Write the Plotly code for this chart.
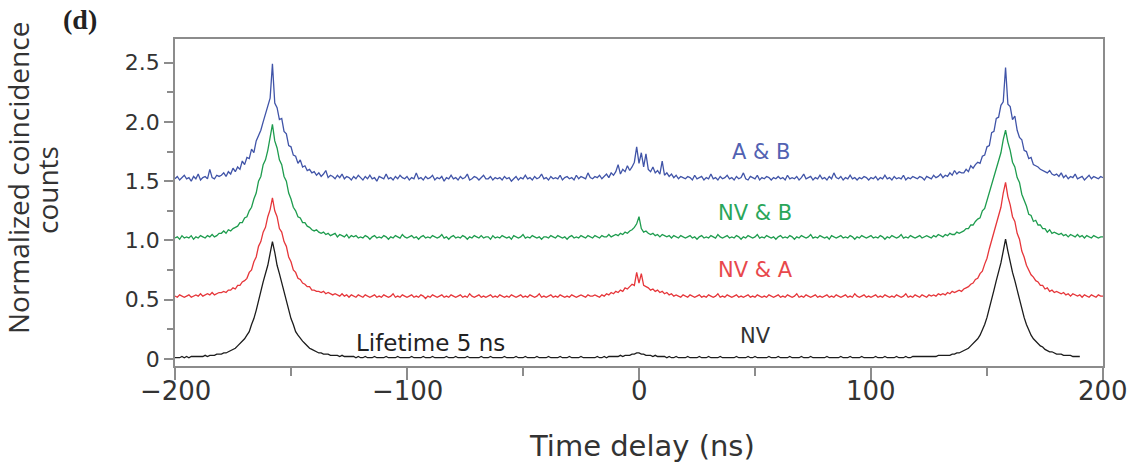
import plotly.graph_objects as go

# Time bins (ns) for the coincidence histograms
time_ns = list(range(-200, 201))
nv_time_ns = list(range(-200, 191))

# Axis tick values and labels
x_tick_values = [-200, -100, 0, 100, 200]
x_tick_labels = ["\u2212200", "\u2212100", "0", "100", "200"]
x_minor_values = [-150, -50, 50, 150]
y_tick_values = [0, 0.5, 1.0, 1.5, 2.0, 2.5]
y_tick_labels = ["0", "0.5", "1.0", "1.5", "2.0", "2.5"]
y_minor_values = [0.25, 0.75, 1.25, 1.75, 2.25]

# A & B coincidences (offset by +1.5)
counts_ab = (
    [1.52, 1.54, 1.51, 1.53, 1.55, 1.52, 1.53, 1.50, 1.54, 1.52, 1.56, 1.51, 1.53, 1.54, 1.52, 1.60, 1.53, 1.52, 1.55, 1.54]
    + [1.55, 1.57, 1.54, 1.58, 1.56, 1.61, 1.58, 1.62, 1.60, 1.67, 1.64, 1.70, 1.69, 1.77, 1.74, 1.84, 1.88, 1.93, 2.00, 2.06]
    + [2.13, 2.20, 2.49, 2.16, 2.12, 2.02, 2.03, 1.92, 1.90, 1.80, 1.79, 1.72, 1.71, 1.65, 1.68, 1.62, 1.63, 1.59, 1.60, 1.57]
    + [1.58, 1.55, 1.57, 1.54, 1.56, 1.59, 1.53, 1.55, 1.54, 1.52, 1.55, 1.53, 1.56, 1.52, 1.54, 1.53, 1.51, 1.54, 1.52, 1.55]
    + [1.53, 1.51, 1.54, 1.52, 1.55, 1.52, 1.53, 1.50, 1.54, 1.53, 1.52, 1.56, 1.52, 1.53, 1.51, 1.54, 1.52, 1.55, 1.53, 1.52]
    + [1.54, 1.51, 1.53, 1.52, 1.57, 1.52, 1.53, 1.51, 1.54, 1.52, 1.53, 1.55, 1.51, 1.53, 1.52, 1.54, 1.50, 1.53, 1.52, 1.55]
    + [1.52, 1.53, 1.51, 1.54, 1.52, 1.53, 1.56, 1.51, 1.52, 1.54, 1.53, 1.51, 1.53, 1.55, 1.52, 1.52, 1.54, 1.51, 1.53, 1.52]
    + [1.53, 1.51, 1.54, 1.52, 1.53, 1.50, 1.52, 1.54, 1.51, 1.53, 1.52, 1.55, 1.52, 1.53, 1.51, 1.54, 1.52, 1.53, 1.56, 1.52]
    + [1.53, 1.51, 1.54, 1.52, 1.53, 1.52, 1.55, 1.51, 1.53, 1.54, 1.52, 1.53, 1.51, 1.55, 1.52, 1.54, 1.53, 1.52, 1.57, 1.53]
    + [1.52, 1.54, 1.53, 1.55, 1.52, 1.54, 1.56, 1.53, 1.57, 1.55, 1.58, 1.64, 1.56, 1.60, 1.58, 1.63, 1.59, 1.62, 1.66, 1.79]
    + [1.65, 1.74, 1.62, 1.73, 1.60, 1.58, 1.62, 1.57, 1.59, 1.56, 1.67, 1.55, 1.57, 1.54, 1.56, 1.53, 1.55, 1.52, 1.54, 1.53]
    + [1.52, 1.54, 1.53, 1.51, 1.55, 1.52, 1.53, 1.54, 1.51, 1.53, 1.52, 1.56, 1.52, 1.53, 1.51, 1.54, 1.52, 1.53, 1.55, 1.52]
    + [1.53, 1.51, 1.54, 1.52, 1.53, 1.57, 1.52, 1.51, 1.54, 1.53, 1.52, 1.55, 1.51, 1.53, 1.52, 1.54, 1.53, 1.51, 1.53, 1.52]
    + [1.54, 1.52, 1.53, 1.51, 1.55, 1.52, 1.53, 1.52, 1.54, 1.51, 1.53, 1.56, 1.52, 1.53, 1.54, 1.51, 1.53, 1.52, 1.55, 1.52]
    + [1.53, 1.51, 1.54, 1.52, 1.57, 1.53, 1.52, 1.54, 1.51, 1.53, 1.52, 1.55, 1.52, 1.53, 1.51, 1.53, 1.52, 1.54, 1.53, 1.51]
    + [1.53, 1.52, 1.54, 1.51, 1.53, 1.52, 1.55, 1.52, 1.53, 1.51, 1.54, 1.52, 1.53, 1.52, 1.55, 1.51, 1.53, 1.52, 1.54, 1.53]
    + [1.52, 1.54, 1.53, 1.51, 1.54, 1.53, 1.52, 1.55, 1.53, 1.54, 1.56, 1.53, 1.55, 1.54, 1.57, 1.55, 1.59, 1.56, 1.58, 1.57]
    + [1.57, 1.60, 1.58, 1.63, 1.61, 1.64, 1.66, 1.65, 1.71, 1.72, 1.79, 1.80, 1.91, 1.92, 2.03, 2.04, 2.14, 2.17, 2.46, 2.15]
    + [2.13, 2.02, 2.05, 1.93, 1.87, 1.85, 1.76, 1.75, 1.69, 1.70, 1.64, 1.63, 1.62, 1.60, 1.59, 1.58, 1.57, 1.59, 1.56, 1.55]
    + [1.56, 1.54, 1.57, 1.53, 1.55, 1.52, 1.54, 1.53, 1.56, 1.52, 1.53, 1.54, 1.51, 1.53, 1.55, 1.52, 1.54, 1.53, 1.52, 1.54, 1.53]
)

# NV & B coincidences (offset by +1.0)
counts_nv_b = (
    [1.02, 1.03, 1.01, 1.04, 1.02, 1.03, 1.02, 1.04, 1.01, 1.03, 1.02, 1.04, 1.03, 1.02, 1.04, 1.03, 1.05, 1.03, 1.04, 1.06]
    + [1.06, 1.08, 1.06, 1.09, 1.08, 1.10, 1.11, 1.12, 1.15, 1.15, 1.19, 1.20, 1.25, 1.28, 1.35, 1.40, 1.50, 1.54, 1.64, 1.68]
    + [1.76, 1.87, 1.98, 1.84, 1.78, 1.68, 1.64, 1.54, 1.50, 1.40, 1.35, 1.28, 1.25, 1.20, 1.19, 1.15, 1.15, 1.12, 1.11, 1.09]
    + [1.08, 1.09, 1.07, 1.06, 1.07, 1.05, 1.06, 1.04, 1.05, 1.06, 1.03, 1.05, 1.04, 1.03, 1.05, 1.02, 1.04, 1.03, 1.04, 1.02]
    + [1.03, 1.02, 1.04, 1.03, 1.01, 1.03, 1.04, 1.02, 1.03, 1.02, 1.04, 1.03, 1.01, 1.03, 1.02, 1.04, 1.03, 1.02, 1.05, 1.03]
    + [1.02, 1.03, 1.04, 1.02, 1.03, 1.01, 1.03, 1.04, 1.02, 1.03, 1.02, 1.04, 1.03, 1.02, 1.03, 1.05, 1.02, 1.03, 1.01, 1.03]
    + [1.04, 1.02, 1.03, 1.02, 1.04, 1.03, 1.01, 1.03, 1.02, 1.04, 1.03, 1.02, 1.04, 1.02, 1.03, 1.03, 1.01, 1.04, 1.02, 1.03]
    + [1.02, 1.04, 1.03, 1.02, 1.03, 1.01, 1.04, 1.03, 1.02, 1.03, 1.05, 1.02, 1.03, 1.02, 1.04, 1.03, 1.02, 1.03, 1.01, 1.03]
    + [1.03, 1.02, 1.04, 1.03, 1.02, 1.04, 1.03, 1.02, 1.03, 1.01, 1.03, 1.04, 1.02, 1.03, 1.02, 1.04, 1.03, 1.02, 1.04, 1.03]
    + [1.02, 1.04, 1.03, 1.02, 1.04, 1.03, 1.03, 1.05, 1.03, 1.04, 1.05, 1.04, 1.06, 1.05, 1.07, 1.06, 1.08, 1.09, 1.11, 1.14]
    + [1.20, 1.10, 1.07, 1.08, 1.06, 1.05, 1.06, 1.04, 1.05, 1.03, 1.05, 1.04, 1.03, 1.04, 1.02, 1.04, 1.03, 1.02, 1.04, 1.03]
    + [1.02, 1.03, 1.04, 1.02, 1.03, 1.01, 1.03, 1.04, 1.02, 1.03, 1.02, 1.04, 1.03, 1.02, 1.05, 1.03, 1.02, 1.03, 1.04, 1.02]
    + [1.03, 1.02, 1.04, 1.03, 1.01, 1.03, 1.02, 1.04, 1.03, 1.02, 1.03, 1.05, 1.02, 1.03, 1.02, 1.04, 1.03, 1.02, 1.03, 1.01]
    + [1.03, 1.04, 1.02, 1.03, 1.02, 1.04, 1.03, 1.01, 1.03, 1.02, 1.04, 1.03, 1.02, 1.03, 1.05, 1.02, 1.03, 1.02, 1.04, 1.03]
    + [1.02, 1.03, 1.01, 1.04, 1.03, 1.02, 1.03, 1.04, 1.02, 1.03, 1.02, 1.04, 1.03, 1.01, 1.03, 1.02, 1.04, 1.03, 1.02, 1.03]
    + [1.04, 1.02, 1.03, 1.02, 1.04, 1.03, 1.01, 1.03, 1.02, 1.04, 1.03, 1.02, 1.03, 1.05, 1.02, 1.03, 1.02, 1.04, 1.03, 1.02]
    + [1.03, 1.04, 1.02, 1.03, 1.04, 1.03, 1.02, 1.04, 1.03, 1.05, 1.04, 1.03, 1.05, 1.04, 1.06, 1.05, 1.05, 1.07, 1.06, 1.07]
    + [1.08, 1.10, 1.10, 1.13, 1.13, 1.16, 1.18, 1.19, 1.25, 1.27, 1.34, 1.41, 1.47, 1.55, 1.61, 1.69, 1.74, 1.85, 1.93, 1.83]
    + [1.76, 1.66, 1.62, 1.53, 1.49, 1.39, 1.34, 1.29, 1.22, 1.21, 1.16, 1.17, 1.13, 1.13, 1.10, 1.10, 1.07, 1.09, 1.06, 1.07]
    + [1.06, 1.05, 1.06, 1.04, 1.05, 1.03, 1.05, 1.04, 1.03, 1.05, 1.03, 1.04, 1.02, 1.04, 1.03, 1.02, 1.04, 1.03, 1.02, 1.03, 1.03]
)

# NV & A coincidences (offset by +0.5)
counts_nv_a = (
    [0.53, 0.52, 0.54, 0.53, 0.52, 0.53, 0.54, 0.52, 0.53, 0.54, 0.53, 0.55, 0.53, 0.54, 0.55, 0.54, 0.56, 0.54, 0.55, 0.56]
    + [0.56, 0.57, 0.56, 0.58, 0.58, 0.60, 0.59, 0.62, 0.62, 0.65, 0.66, 0.68, 0.73, 0.75, 0.82, 0.86, 0.95, 0.99, 1.07, 1.11]
    + [1.20, 1.26, 1.36, 1.25, 1.20, 1.10, 1.07, 0.99, 0.95, 0.86, 0.82, 0.75, 0.73, 0.68, 0.67, 0.64, 0.63, 0.61, 0.61, 0.58]
    + [0.58, 0.57, 0.57, 0.56, 0.57, 0.55, 0.56, 0.55, 0.54, 0.55, 0.54, 0.53, 0.55, 0.53, 0.54, 0.52, 0.54, 0.53, 0.52, 0.54]
    + [0.53, 0.52, 0.54, 0.53, 0.52, 0.53, 0.54, 0.52, 0.53, 0.52, 0.54, 0.53, 0.52, 0.53, 0.55, 0.52, 0.53, 0.52, 0.54, 0.53]
    + [0.52, 0.53, 0.54, 0.52, 0.53, 0.52, 0.54, 0.53, 0.51, 0.53, 0.52, 0.54, 0.53, 0.52, 0.53, 0.54, 0.52, 0.53, 0.52, 0.54]
    + [0.53, 0.52, 0.53, 0.54, 0.52, 0.53, 0.52, 0.55, 0.53, 0.52, 0.53, 0.54, 0.52, 0.53, 0.52, 0.53, 0.54, 0.52, 0.53, 0.52]
    + [0.54, 0.53, 0.52, 0.53, 0.52, 0.54, 0.53, 0.52, 0.53, 0.54, 0.52, 0.53, 0.52, 0.54, 0.53, 0.52, 0.53, 0.55, 0.52, 0.53]
    + [0.52, 0.53, 0.54, 0.52, 0.53, 0.52, 0.54, 0.53, 0.52, 0.53, 0.52, 0.54, 0.53, 0.52, 0.53, 0.54, 0.53, 0.52, 0.54, 0.53]
    + [0.53, 0.54, 0.53, 0.52, 0.54, 0.53, 0.55, 0.54, 0.56, 0.55, 0.57, 0.56, 0.58, 0.57, 0.60, 0.59, 0.61, 0.63, 0.62, 0.73]
    + [0.64, 0.72, 0.62, 0.61, 0.60, 0.58, 0.59, 0.57, 0.58, 0.56, 0.57, 0.55, 0.56, 0.54, 0.55, 0.53, 0.54, 0.53, 0.52, 0.54]
    + [0.53, 0.52, 0.54, 0.53, 0.52, 0.53, 0.54, 0.52, 0.53, 0.52, 0.54, 0.53, 0.52, 0.53, 0.55, 0.52, 0.53, 0.52, 0.54, 0.53]
    + [0.52, 0.53, 0.54, 0.52, 0.53, 0.52, 0.53, 0.54, 0.52, 0.53, 0.52, 0.54, 0.53, 0.52, 0.53, 0.52, 0.54, 0.53, 0.52, 0.53]
    + [0.54, 0.52, 0.53, 0.52, 0.54, 0.53, 0.52, 0.53, 0.55, 0.52, 0.53, 0.52, 0.54, 0.53, 0.52, 0.53, 0.54, 0.52, 0.53, 0.52]
    + [0.53, 0.54, 0.52, 0.53, 0.52, 0.54, 0.53, 0.52, 0.53, 0.54, 0.52, 0.53, 0.52, 0.55, 0.53, 0.52, 0.53, 0.54, 0.52, 0.53]
    + [0.52, 0.53, 0.54, 0.52, 0.53, 0.52, 0.54, 0.53, 0.52, 0.53, 0.52, 0.54, 0.53, 0.52, 0.53, 0.55, 0.52, 0.53, 0.52, 0.54]
    + [0.53, 0.52, 0.54, 0.53, 0.52, 0.54, 0.53, 0.54, 0.53, 0.55, 0.54, 0.55, 0.54, 0.56, 0.55, 0.57, 0.56, 0.57, 0.58, 0.57]
    + [0.59, 0.60, 0.61, 0.63, 0.64, 0.67, 0.68, 0.72, 0.74, 0.80, 0.85, 0.93, 1.00, 1.08, 1.14, 1.22, 1.28, 1.40, 1.49, 1.37]
    + [1.30, 1.20, 1.16, 1.06, 1.01, 0.91, 0.86, 0.79, 0.75, 0.71, 0.69, 0.66, 0.65, 0.62, 0.62, 0.59, 0.60, 0.57, 0.58, 0.56]
    + [0.57, 0.56, 0.55, 0.56, 0.54, 0.55, 0.53, 0.55, 0.54, 0.53, 0.54, 0.52, 0.54, 0.53, 0.52, 0.54, 0.53, 0.52, 0.54, 0.53, 0.53]
)

# NV autocorrelation (no offset)
counts_nv = (
    [0.01, 0.01, 0.01, 0.02, 0.01, 0.02, 0.01, 0.02, 0.02, 0.02, 0.02, 0.02, 0.02, 0.03, 0.02, 0.03, 0.03, 0.03, 0.04, 0.04]
    + [0.04, 0.05, 0.05, 0.06, 0.07, 0.08, 0.09, 0.11, 0.13, 0.15, 0.17, 0.20, 0.23, 0.29, 0.34, 0.41, 0.50, 0.57, 0.65, 0.72]
    + [0.79, 0.89, 0.99, 0.90, 0.79, 0.72, 0.64, 0.57, 0.50, 0.41, 0.34, 0.29, 0.23, 0.20, 0.17, 0.15, 0.13, 0.11, 0.09, 0.08]
    + [0.07, 0.06, 0.05, 0.05, 0.04, 0.04, 0.04, 0.03, 0.03, 0.03, 0.03, 0.02, 0.03, 0.02, 0.02, 0.02, 0.02, 0.02, 0.01, 0.02]
    + [0.01, 0.01, 0.02, 0.01, 0.01, 0.01, 0.02, 0.01, 0.01, 0.01, 0.01, 0.02, 0.01, 0.01, 0.01, 0.01, 0.02, 0.01, 0.01, 0.01]
    + [0.01, 0.01, 0.02, 0.01, 0.01, 0.01, 0.01, 0.02, 0.01, 0.01, 0.01, 0.02, 0.01, 0.01, 0.01, 0.01, 0.01, 0.02, 0.01, 0.01]
    + [0.01, 0.02, 0.01, 0.01, 0.01, 0.01, 0.02, 0.01, 0.01, 0.01, 0.01, 0.01, 0.02, 0.01, 0.01, 0.01, 0.02, 0.01, 0.01, 0.01]
    + [0.01, 0.01, 0.02, 0.01, 0.01, 0.01, 0.01, 0.02, 0.01, 0.01, 0.01, 0.02, 0.01, 0.01, 0.01, 0.01, 0.02, 0.01, 0.01, 0.01]
    + [0.01, 0.02, 0.01, 0.01, 0.01, 0.01, 0.02, 0.01, 0.01, 0.01, 0.02, 0.01, 0.01, 0.01, 0.01, 0.02, 0.01, 0.01, 0.01, 0.01]
    + [0.01, 0.01, 0.02, 0.01, 0.01, 0.02, 0.01, 0.02, 0.02, 0.02, 0.02, 0.02, 0.03, 0.02, 0.03, 0.03, 0.03, 0.04, 0.04, 0.05]
    + [0.05, 0.04, 0.04, 0.03, 0.03, 0.03, 0.02, 0.03, 0.02, 0.02, 0.02, 0.02, 0.01, 0.02, 0.01, 0.01, 0.02, 0.01, 0.01, 0.01]
    + [0.01, 0.02, 0.01, 0.01, 0.01, 0.01, 0.02, 0.01, 0.01, 0.01, 0.02, 0.01, 0.01, 0.01, 0.01, 0.02, 0.01, 0.01, 0.01, 0.01]
    + [0.01, 0.01, 0.02, 0.01, 0.01, 0.01, 0.01, 0.02, 0.01, 0.01, 0.02, 0.01, 0.01, 0.01, 0.01, 0.01, 0.02, 0.01, 0.01, 0.01]
    + [0.02, 0.01, 0.01, 0.01, 0.01, 0.02, 0.01, 0.01, 0.01, 0.01, 0.02, 0.01, 0.01, 0.01, 0.02, 0.01, 0.01, 0.01, 0.01, 0.01]
    + [0.01, 0.02, 0.01, 0.01, 0.01, 0.01, 0.01, 0.02, 0.01, 0.01, 0.01, 0.02, 0.01, 0.01, 0.01, 0.01, 0.02, 0.01, 0.01, 0.01]
    + [0.01, 0.01, 0.02, 0.01, 0.01, 0.01, 0.02, 0.01, 0.01, 0.01, 0.01, 0.02, 0.01, 0.01, 0.01, 0.02, 0.01, 0.01, 0.02, 0.02]
    + [0.02, 0.02, 0.02, 0.02, 0.02, 0.02, 0.02, 0.02, 0.02, 0.03, 0.03, 0.03, 0.03, 0.03, 0.03, 0.04, 0.04, 0.05, 0.05, 0.06]
    + [0.07, 0.08, 0.09, 0.11, 0.13, 0.15, 0.17, 0.20, 0.24, 0.29, 0.35, 0.42, 0.51, 0.58, 0.66, 0.73, 0.81, 0.91, 1.01, 0.91]
    + [0.81, 0.73, 0.66, 0.58, 0.51, 0.42, 0.35, 0.29, 0.24, 0.20, 0.17, 0.15, 0.13, 0.11, 0.10, 0.08, 0.07, 0.06, 0.06, 0.05]
    + [0.04, 0.04, 0.04, 0.03, 0.03, 0.03, 0.03, 0.02, 0.02, 0.02, 0.02]
)

assert len(counts_ab) == len(time_ns)
assert len(counts_nv_b) == len(time_ns)
assert len(counts_nv_a) == len(time_ns)
assert len(counts_nv) == len(nv_time_ns)

# Trace styling: (name, x, y, colour)
series = [
    ("NV", nv_time_ns, counts_nv, "#1c1c1c"),
    ("NV & A", time_ns, counts_nv_a, "#e6363a"),
    ("NV & B", time_ns, counts_nv_b, "#1e9c4e"),
    ("A & B", time_ns, counts_ab, "#4054a8"),
]

# Curve labels: text, x (ns), y, colour, size
labels = [
    ("A & B", 53, 1.75, "#5262b2", 21),
    ("NV & B", 50, 1.23, "#2aa65a", 21),
    ("NV & A", 50, 0.75, "#e8484c", 21),
    ("NV", 50, 0.19, "#333333", 21),
    ("Lifetime 5 ns", -90, 0.135, "#222222", 23),
]

WIDE = "DejaVu Sans, Verdana, sans-serif"
OPEN = "Open Sans, Noto Sans, sans-serif"
AXIS_GREY = "#8c8c8c"
TEXT = "#333333"

# Plot-area geometry (pixels)
W, H = 1135, 473
ML, MR, MT, MB = 175, 32, 39, 107
PW, PH = W - ML - MR, H - MT - MB


def paper_x(px):
    return (px - ML) / PW


def paper_y(py):
    return (H - MB - py) / PH


def paper_text(px, py, text, font, angle=0):
    fig.add_annotation(x=paper_x(px), y=paper_y(py), xref="paper", yref="paper",
                       xanchor="center", yanchor="middle", text=text,
                       textangle=angle, showarrow=False, font=font)


fig = go.Figure()
for name, x, y, colour in series:
    fig.add_trace(go.Scatter(x=x, y=y, mode="lines", name=name,
                             line=dict(color=colour, width=1.3)))

for text, x, y, colour, size in labels:
    fig.add_annotation(x=x, y=y, xref="x", yref="y", text=text, showarrow=False,
                       xanchor="center", yanchor="middle",
                       font=dict(family=WIDE, size=size, color=colour))

# x tick labels, set close under the tick marks
for value, text in zip(x_tick_values, x_tick_labels):
    fig.add_annotation(x=value, y=paper_y(391), xref="x", yref="paper",
                       xanchor="center", yanchor="middle", text=text, showarrow=False,
                       font=dict(family=WIDE, size=26, color=TEXT))

# Panel letter and axis titles
paper_text(80, 20, "<b>(d)</b>",
           dict(family="Liberation Serif, DejaVu Serif, serif", size=28, color="#222"))
paper_text(642, 446, "Time delay (ns)", dict(family=WIDE, size=29, color=TEXT))
paper_text(18, 178, "Normalized coincidence", dict(family=OPEN, size=28, color=TEXT), -90)
paper_text(47, 190, "counts", dict(family=OPEN, size=28, color=TEXT), -90)

axis_common = dict(
    showline=True, linecolor=AXIS_GREY, linewidth=1.5, mirror=True,
    ticks="outside", tickwidth=1.5, tickcolor=AXIS_GREY,
    showgrid=False, zeroline=False,
)

fig.update_layout(
    width=W, height=H,
    margin=dict(l=ML, r=MR, t=MT, b=MB),
    paper_bgcolor="white", plot_bgcolor="white",
    showlegend=False,
    xaxis=dict(
        range=[-200, 200], tickvals=x_tick_values, showticklabels=False,
        ticklen=12,
        minor=dict(tickvals=x_minor_values, ticklen=8, tickwidth=1.5,
                   tickcolor=AXIS_GREY, ticks="outside"),
        **axis_common,
    ),
    yaxis=dict(
        range=[-0.06, 2.70], tickvals=y_tick_values, ticktext=y_tick_labels,
        ticklen=9, tickfont=dict(family=WIDE, size=22, color=TEXT),
        minor=dict(tickvals=y_minor_values, ticklen=6, tickwidth=1.5,
                   tickcolor=AXIS_GREY, ticks="outside"),
        **axis_common,
    ),
)

fig.write_html("out.html")
